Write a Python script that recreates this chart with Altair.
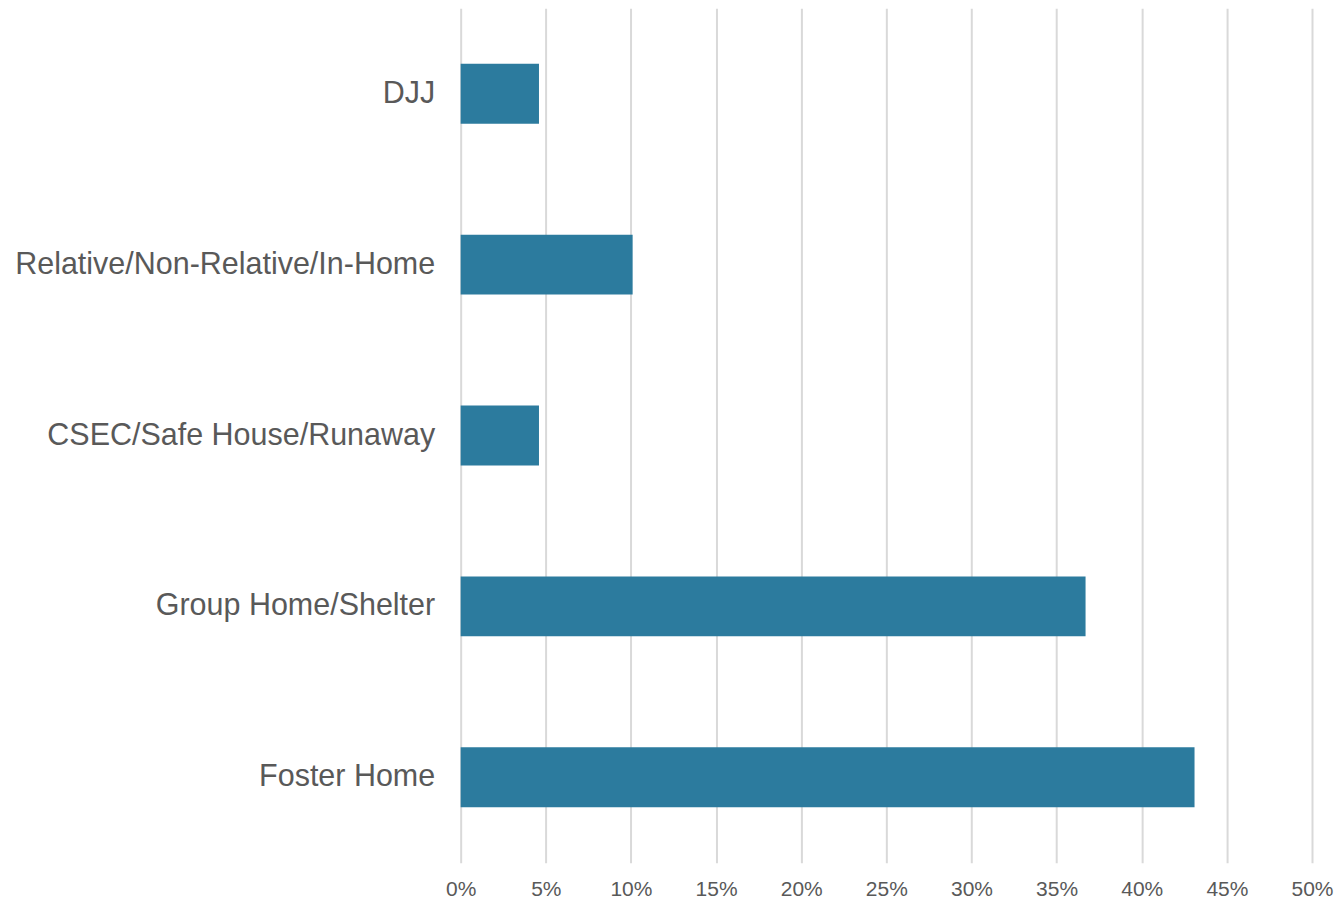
import altair as alt
import pandas as pd

categories = ["DJJ", "Relative/Non-Relative/In-Home", "CSEC/Safe House/Runaway",
              "Group Home/Shelter", "Foster Home"]
values = [4.6, 10.1, 4.6, 36.7, 43.1]

df = pd.DataFrame({"cat": categories, "val": [v / 100 for v in values]})

chart = alt.Chart(df).mark_bar(color="#2C7B9E").encode(
    x=alt.X("val:Q", scale=alt.Scale(domain=[0, 0.5], nice=False),
            axis=alt.Axis(format=".0%", values=[i * 0.05 for i in range(11)],
                          title=None, domain=False, ticks=False,
                          grid=True, gridColor="#D9D9D9", gridWidth=2,
                          labelFont="Liberation Sans", labelFontSize=21, labelColor="#595959",
                          labelFlush=False, labelPadding=16)),
    y=alt.Y("cat:N", sort=categories,
            scale=alt.Scale(paddingInner=0.65, paddingOuter=0.325),
            axis=alt.Axis(title=None, domain=False, ticks=False, grid=False,
                          labelFont="Liberation Sans", labelFontSize=30.5, labelColor="#595959",
                          labelPadding=26, labelLimit=600)),
).properties(
    width=852, height=855,
    autosize=alt.AutoSizeParams(type="none"),
    padding={"left": 453, "top": 0, "right": 22, "bottom": 40},
).configure_view(stroke=None)

chart.save("out.html", embed_options={"renderer": "svg", "actions": False})
